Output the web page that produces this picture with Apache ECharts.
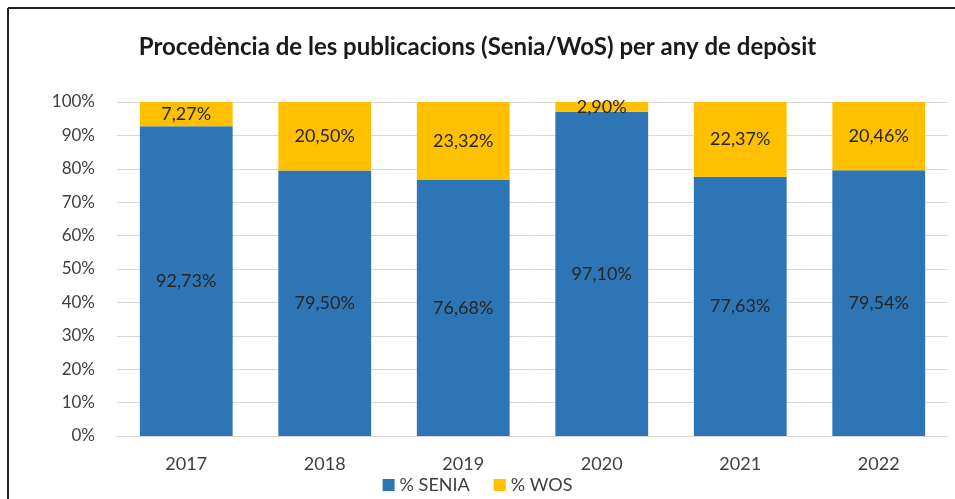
<!DOCTYPE html>
<html>
<head>
<meta charset="utf-8">
<script src="https://cdn.jsdelivr.net/npm/echarts@6/dist/echarts.min.js"></script>
<style>
  html, body { margin: 0; padding: 0; background: #fff; }
  #main { width: 955px; height: 499px; }
</style>
</head>
<body>
<div id="main"></div>
<script>
// dades llegides del gràfic
const years = ['2017', '2018', '2019', '2020', '2021', '2022'];
const senia = [92.73, 79.50, 76.68, 97.10, 77.63, 79.54];
const wos = [7.27, 20.50, 23.32, 2.90, 22.37, 20.46];
const yTicks = [0, 10, 20, 30, 40, 50, 60, 70, 80, 90, 100];

const chart = echarts.init(document.getElementById('main'));

const fmt = v => v.toFixed(2).replace('.', ',') + '%';
const font = 'Lato, "Open Sans", sans-serif';

chart.setOption({
  textStyle: { fontFamily: font },
  title: {
    text: 'Procedència de les publicacions (Senia/WoS) per any de depòsit',
    left: 'center',
    top: 30,
    textStyle: { fontSize: 24, fontWeight: 'bold', color: '#1a1a1a', fontFamily: font }
  },
  graphic: [
    { type: 'line', shape: { x1: 8, y1: 8, x2: 955, y2: 8 }, style: { stroke: '#222', lineWidth: 2 } },
    { type: 'line', shape: { x1: 8, y1: 8, x2: 8, y2: 499 }, style: { stroke: '#222', lineWidth: 2 } }
  ],
  legend: {
    bottom: 0,
    left: 'center',
    itemWidth: 12,
    itemHeight: 12,
    itemGap: 24,
    icon: 'rect',
    textStyle: { fontSize: 18, color: '#404040', fontFamily: font },
    data: ['% SENIA', '% WOS']
  },
  grid: { left: 117, right: 7, top: 102, bottom: 63 },
  xAxis: {
    type: 'category',
    data: years,
    axisLine: { show: true, lineStyle: { color: '#d9d9d9' } },
    axisTick: { show: false },
    axisLabel: { fontSize: 18, color: '#404040', margin: 19 }
  },
  yAxis: {
    type: 'value',
    min: 0,
    max: 100,
    interval: 10,
    axisLine: { show: false },
    axisTick: { show: false },
    splitLine: { lineStyle: { color: '#d9d9d9' } },
    axisLabel: {
      fontSize: 17,
      color: '#404040',
      margin: 22,
      formatter: v => (yTicks.includes(v) ? v + '%' : '')
    }
  },
  series: [
    {
      name: '% SENIA',
      type: 'bar',
      stack: 'total',
      data: senia,
      barCategoryGap: '33%',
      itemStyle: { color: '#2E75B6' },
      label: {
        show: true,
        position: 'inside',
        fontSize: 18,
        color: '#262626',
        formatter: p => fmt(p.value)
      }
    },
    {
      name: '% WOS',
      type: 'bar',
      stack: 'total',
      data: wos,
      itemStyle: { color: '#FFC000' },
      label: {
        show: true,
        position: 'inside',
        fontSize: 18,
        color: '#262626',
        formatter: p => fmt(p.value)
      }
    }
  ]
});
</script>
</body>
</html>
